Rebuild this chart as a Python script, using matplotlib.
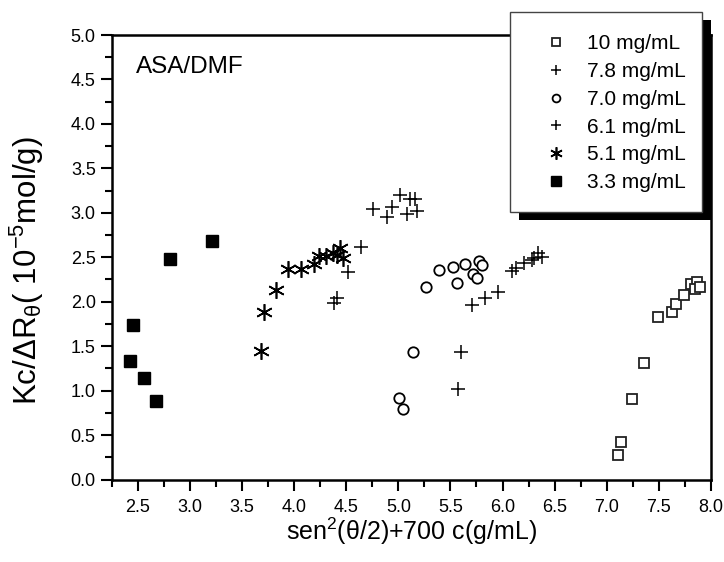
import matplotlib
matplotlib.use('Agg')
import matplotlib.pyplot as plt
from matplotlib.patches import Rectangle
from matplotlib.ticker import MultipleLocator, FormatStrFormatter

plt.rcParams['font.family'] = ['Liberation Sans', 'DejaVu Sans']
plt.rcParams['mathtext.fontset'] = 'custom'
plt.rcParams['mathtext.rm'] = 'Liberation Sans'
plt.rcParams['mathtext.it'] = 'Liberation Sans'

# series: x = sen^2(theta/2) + 700 c, y = Kc/dR (1e-5 mol/g)
x_10 = [7.107, 7.133, 7.241, 7.360, 7.488, 7.622, 7.660, 7.740, 7.804, 7.868, 7.842, 7.899]
y_10 = [0.272, 0.425, 0.906, 1.314, 1.831, 1.888, 1.971, 2.079, 2.196, 2.225, 2.146, 2.162]

x_78 = [5.569, 5.600, 5.703, 5.830, 5.958, 6.086, 6.127, 6.207, 6.278, 6.300, 6.341, 6.374]
y_78 = [1.018, 1.431, 1.963, 2.038, 2.112, 2.349, 2.376, 2.432, 2.469, 2.488, 2.551, 2.506]

x_70 = [5.010, 5.042, 5.144, 5.262, 5.393, 5.521, 5.562, 5.642, 5.713, 5.751, 5.770, 5.805]
y_70 = [0.920, 0.790, 1.438, 2.162, 2.357, 2.394, 2.210, 2.421, 2.312, 2.263, 2.458, 2.413]

x_61 = [4.384, 4.416, 4.521, 4.640, 4.761, 4.895, 4.937, 5.016, 5.086, 5.112, 5.160, 5.182]
y_61 = [1.982, 2.038, 2.331, 2.619, 3.043, 2.949, 3.069, 3.200, 2.983, 3.152, 3.152, 3.020]

x_51 = [3.685, 3.714, 3.822, 3.941, 4.065, 4.193, 4.240, 4.307, 4.377, 4.416, 4.441, 4.473]
y_51 = [1.449, 1.884, 2.131, 2.364, 2.371, 2.424, 2.514, 2.514, 2.551, 2.525, 2.601, 2.488]

x_33 = [2.423, 2.452, 2.557, 2.679, 2.807, 3.216]
y_33 = [1.333, 1.738, 1.142, 0.886, 2.477, 2.686]

labels = ['10 mg/mL', '7.8 mg/mL', '7.0 mg/mL', '6.1 mg/mL', '5.1 mg/mL', '3.3 mg/mL']
x_ticks = [2.5, 3.0, 3.5, 4.0, 4.5, 5.0, 5.5, 6.0, 6.5, 7.0, 7.5, 8.0]

W, H = 724, 562
fig = plt.figure(figsize=(W / 100, H / 100), dpi=100)
ax = fig.add_axes([111.7 / W, 1 - 479.5 / H, (711 - 111.7) / W, (479.5 - 35) / H])

handles = []
handles += ax.plot(x_10, y_10, ls='none', marker='s', ms=7.5, mfc='white', mec='#222222', mew=1.3)
handles += ax.plot(x_78, y_78, ls='none', marker='+', ms=10, mec='black', mew=1.1)
handles += ax.plot(x_70, y_70, ls='none', marker='o', ms=7.5, mfc='white', mec='black', mew=1.3)
handles += ax.plot(x_61, y_61, ls='none', marker='+', ms=10, mec='black', mew=1.1)
handles += ax.plot(x_51, y_51, ls='none', marker=(6, 2, 0), ms=12, mec='black', mew=1.2)
handles += ax.plot(x_33, y_33, ls='none', marker='s', ms=9, mfc='black', mec='black')

ax.set_xlim(2.25, 8.0)
ax.set_ylim(0, 5.0)
ax.set_xticks(x_ticks)
ax.xaxis.set_minor_locator(MultipleLocator(0.25))
ax.yaxis.set_major_locator(MultipleLocator(0.5))
ax.yaxis.set_minor_locator(MultipleLocator(0.25))
ax.xaxis.set_major_formatter(FormatStrFormatter('%.1f'))
ax.yaxis.set_major_formatter(FormatStrFormatter('%.1f'))
ax.tick_params(which='both', direction='out', top=False, right=False, width=1.5, labelsize=13)
ax.tick_params(which='major', length=8)
ax.tick_params(which='minor', length=5)
ax.tick_params(axis='x', which='major', pad=6)
for s in ax.spines.values():
    s.set_linewidth(1.8)

ax.set_xlabel(r'sen$^{2}$($\theta$/2)+700 c(g/mL)', fontsize=18, labelpad=0)
ax.set_ylabel(r'Kc/$\Delta$R$_{\theta}$( 10$^{-5}$mol/g)', fontsize=22.5)
ax.yaxis.set_label_coords(-0.11, 0.47)
ax.text(0.04, 0.928, 'ASA/DMF', transform=ax.transAxes, fontsize=17.5, va='center', ha='left')

# legend box with solid shadow
bx0, bx1, by0, by1 = 510, 702, 12, 212
fig.patches.append(Rectangle((bx0 + 9, H - by1 - 8), bx1 - bx0, by1 - by0, transform=None,
                             facecolor='black', edgecolor='none', zorder=8, figure=fig))
fig.patches.append(Rectangle((bx0, H - by1), bx1 - bx0, by1 - by0, transform=None,
                             facecolor='white', edgecolor='#444444', lw=1, zorder=9, figure=fig))
leg = fig.legend(handles, labels, loc='upper left', bbox_to_anchor=(535 / W, 1 - 24 / H),
                 frameon=False, fontsize=15, handlelength=1.0, handletextpad=1.0,
                 labelspacing=0.42, borderpad=0)
leg.set_zorder(10)
for h in leg.legend_handles:
    h.set_markersize(h.get_markersize() * 0.75)

fig.savefig('out.png', dpi=100)
